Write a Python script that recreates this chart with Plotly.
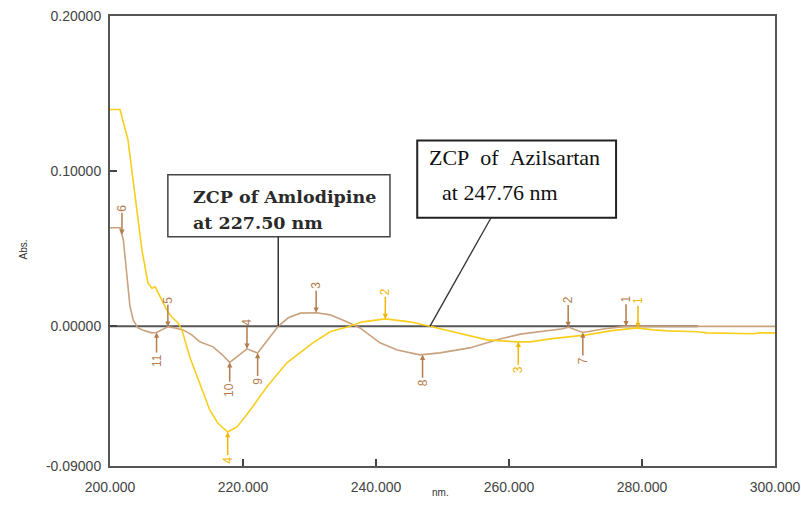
import numpy as np
import plotly.graph_objects as go

# ---------------- data ----------------
aml_wl = [200.0, 201.5, 202.0, 202.6, 203.0, 203.5, 204.2, 205.0, 206.3, 207.0, 208.0, 208.7,
          209.5, 211.0, 212.3, 213.5, 215.5, 216.8, 218.0, 219.0, 220.6, 221.5, 222.2, 223.5,
          225.3, 226.8, 228.6, 231.1, 233.1, 235.6, 237.6, 240.6, 243.2, 246.6, 249.6, 254.1,
          258.2, 261.7, 264.7, 268.1, 268.9, 271.1, 274.4, 277.6, 300.0]
aml_abs = [0.0635, 0.0635, 0.0560, 0.0280, 0.0130, 0.0040, -0.0010, -0.0025, -0.0042, -0.0040,
           -0.0015, -0.0003, -0.0008, -0.0023, -0.0055, -0.0100, -0.0132, -0.0180, -0.0232,
           -0.0200, -0.0145, -0.0160, -0.0172, -0.0100, 0.0000, 0.0055, 0.0085, 0.0088, 0.0074,
           0.0029, -0.0010, -0.0106, -0.0152, -0.0184, -0.0171, -0.0139, -0.0087, -0.0050,
           -0.0035, -0.0016, -0.0005, -0.0040, -0.0016, 0.0000, 0.0000]

azl_wl = [200.0, 201.5, 202.7, 203.8, 204.8, 205.7, 206.3, 206.8, 207.5, 208.3, 208.7, 209.3,
          210.2, 210.8, 212.0, 213.5, 215.0, 216.2, 217.7, 219.1, 221.1, 223.6, 226.6, 230.5,
          233.1, 235.8, 238.0, 241.4, 245.1, 248.1, 252.2, 256.7, 261.2, 263.2, 266.2, 271.7,
          275.2, 279.2, 281.7, 283.8, 288.3, 289.8, 296.7, 297.7, 300.0]
azl_abs = [0.1397, 0.1397, 0.1203, 0.0816, 0.0494, 0.0280, 0.0245, 0.0255, 0.0190, 0.0126,
           0.0094, 0.0060, 0.0023, -0.0020, -0.0197, -0.0365, -0.0539, -0.0623, -0.0681,
           -0.0648, -0.0539, -0.0390, -0.0235, -0.0106, -0.0035, -0.0003, 0.0029, 0.0048,
           0.0029, 0.0000, -0.0042, -0.0087, -0.0100, -0.0100, -0.0081, -0.0055, -0.0029,
           -0.0010, -0.0023, -0.0029, -0.0035, -0.0042, -0.0048, -0.0042, -0.0042]

aml_peak_wl = [201.8, 207.0, 208.7, 218.0, 220.6, 222.2, 231.0, 247.0, 268.9, 271.1, 277.6]
aml_peak_lbl = ["6", "11", "5", "10", "4", "9", "3", "8", "2", "7", "1"]
aml_peak_dir = ["up", "down", "up", "down", "up", "down", "up", "down", "up", "down", "up"]

azl_peak_wl = [217.7, 241.4, 261.4, 279.4]
azl_peak_lbl = ["4", "2", "3", "1"]
azl_peak_dir = ["down", "up", "down", "up"]

x_ticks = [200, 220, 240, 260, 280, 300]
x_tick_text = ["200.000", "220.000", "240.000", "260.000", "280.000", "300.000"]
y_ticks = [0.2, 0.1, 0.0, -0.09]
y_tick_text = ["0.20000", "0.10000", "0.00000", "-0.09000"]

zcp_aml = 225.3
zcp_azl = 248.1

# ---------------- figure ----------------
TAN = "#C9A27E"
TAN_LBL = "#B37D4E"
YEL = "#F9CE1D"
YEL_LBL = "#F2B705"

fig = go.Figure()
fig.add_trace(go.Scatter(x=aml_wl, y=aml_abs, mode="lines", line=dict(color=TAN, width=1.6),
                         hoverinfo="skip"))
fig.add_trace(go.Scatter(x=azl_wl, y=azl_abs, mode="lines", line=dict(color=YEL, width=1.6),
                         hoverinfo="skip"))

annotations = []
def add_peaks(wls, lbls, dirs, xs, ys, color):
    for w, l, d in zip(wls, lbls, dirs):
        yv = float(np.interp(w, xs, ys))
        annotations.append(dict(x=w, y=yv, xref="x", yref="y", text=l, textangle=-90,
                                showarrow=True, ax=0, ay=-27 if d == "up" else 28,
                                arrowhead=2, arrowsize=0.7, arrowwidth=1.5, arrowcolor=color,
                                font=dict(family="Liberation Sans", size=12, color=color)))

add_peaks(aml_peak_wl, aml_peak_lbl, aml_peak_dir, aml_wl, aml_abs, TAN_LBL)
add_peaks(azl_peak_wl, azl_peak_lbl, azl_peak_dir, azl_wl, azl_abs, YEL_LBL)

# ZCP boxes text
annotations += [
    dict(x=212.2, y=0.0835, xref="x", yref="y", text="<b>ZCP of Amlodipine</b>", showarrow=False,
         xanchor="left", yanchor="middle", font=dict(family="DejaVu Serif", size=17.5, color="#2a2a2a")),
    dict(x=212.2, y=0.0665, xref="x", yref="y", text="<b>at 227.50 nm</b>", showarrow=False,
         xanchor="left", yanchor="middle", font=dict(family="DejaVu Serif", size=17.5, color="#2a2a2a")),
    dict(x=247.7, y=0.1085, xref="x", yref="y", text="ZCP&nbsp;&nbsp;of&nbsp;&nbsp;Azilsartan",
         showarrow=False, xanchor="left", yanchor="middle",
         font=dict(family="Liberation Serif", size=22, color="#111")),
    dict(x=249.6, y=0.0865, xref="x", yref="y", text="at 247.76 nm", showarrow=False,
         xanchor="left", yanchor="middle", font=dict(family="Liberation Serif", size=22, color="#111")),
    dict(x=0, y=0.48, xref="paper", yref="paper", text="Abs.", textangle=-90, showarrow=False,
         xshift=-95, font=dict(family="Liberation Sans", size=10, color="#333")),
    dict(x=0.497, y=0, xref="paper", yref="paper", text="nm.", showarrow=False,
         yshift=-34, font=dict(family="Liberation Sans", size=10, color="#333")),
]

shapes = [
    dict(type="line", x0=200, x1=288.4, y0=0, y1=0, xref="x", yref="y",
         line=dict(color="#555", width=2), layer="below"),
    dict(type="rect", x0=208.7, x1=242.1, y0=0.0577, y1=0.0977, xref="x", yref="y",
         line=dict(color="#444", width=1.5), fillcolor="white"),
    dict(type="line", x0=zcp_aml, x1=zcp_aml, y0=0.0577, y1=0, xref="x", yref="y",
         line=dict(color="#333", width=1.5)),
    dict(type="rect", x0=246.2, x1=276.1, y0=0.070, y1=0.1197, xref="x", yref="y",
         line=dict(color="#222", width=2), fillcolor="white"),
    dict(type="line", x0=257.3, x1=zcp_azl, y0=0.070, y1=0, xref="x", yref="y",
         line=dict(color="#333", width=1.3)),
]

fig.update_layout(
    width=801, height=505, margin=dict(l=110, r=26, t=16, b=39),
    paper_bgcolor="white", plot_bgcolor="white", showlegend=False,
    annotations=annotations, shapes=shapes,
    xaxis=dict(range=[200, 300], tickvals=x_ticks, ticktext=x_tick_text, ticks="inside",
               ticklen=7, tickwidth=1.5, tickcolor="#444", showgrid=False, zeroline=False,
               showline=True, linecolor="#555", linewidth=2, mirror=True,
               ticklabelstandoff=7, automargin=False, ticklabeloverflow="allow",
               tickfont=dict(family="Liberation Sans", size=14, color="#444")),
    yaxis=dict(range=[-0.09, 0.2], tickvals=y_ticks, ticktext=y_tick_text, ticks="inside",
               ticklen=7, tickwidth=1.5, tickcolor="#444", showgrid=False, zeroline=False,
               showline=True, linecolor="#555", linewidth=2, mirror=True,
               ticklabelstandoff=4, automargin=False, ticklabeloverflow="allow",
               tickfont=dict(family="Liberation Sans", size=14, color="#444")),
)

# remove the default 8px page margin so the figure fills the window exactly
fig.write_html("out.html", config={"displayModeBar": False},
               post_script="document.body.style.margin='0';")
